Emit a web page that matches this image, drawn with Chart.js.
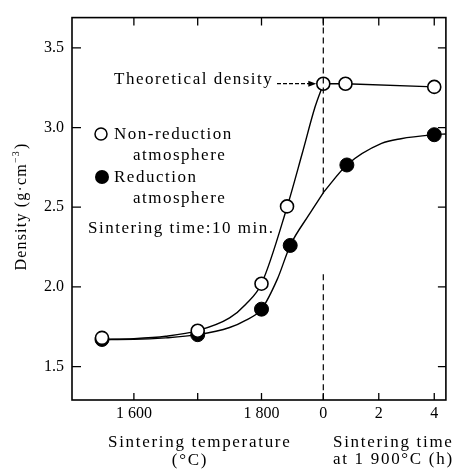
<!DOCTYPE html>
<html>
<head>
<meta charset="utf-8">
<script src="https://cdn.jsdelivr.net/npm/chart.js@4/dist/chart.umd.min.js"></script>
<style>
html, body { margin: 0; padding: 0; background: #fff; }
</style>
</head>
<body>
<canvas id="chart" width="454" height="469"></canvas>
<script>
// measured points, 10 min sintering at each temperature
const tempNonRed = [1550, 1700, 1800, 1840];
const densNonRed = [1.68, 1.725, 2.02, 2.505];
const tempRed = [1550, 1700, 1800, 1845];
const densRed = [1.67, 1.70, 1.86, 2.26];
// measured points, sintering time at 1900 C
const hoursNonRed = [0, 0.8, 4];
const densHoursNonRed = [3.275, 3.275, 3.255];
const hoursRed = [0.85, 4];
const densHoursRed = [2.765, 2.955];

// hand drawn curves
const curveTempNonRed = [1550, 1600, 1650, 1700, 1750, 1775, 1800, 1840, 1864, 1884, 1897];
const curveDensNonRed = [1.67, 1.675, 1.69, 1.725, 1.805, 1.89, 2.02, 2.5, 2.84, 3.13, 3.275];
const curveTempRed = [1550, 1600, 1650, 1700, 1750, 1775, 1800, 1825, 1845, 1874, 1897];
const curveDensRed = [1.67, 1.671, 1.68, 1.70, 1.745, 1.79, 1.86, 2.05, 2.26, 2.45, 2.592];
const curveHoursNonRed = [0, 0.8, 4];
const curveDensHoursNonRed = [3.275, 3.275, 3.255];
const curveHoursRed = [0, 0.85, 2.1, 2.8, 4, 4.45];
const curveDensHoursRed = [2.592, 2.765, 2.90, 2.93, 2.955, 2.96];

const tempTicks = [1600, 1700, 1800];
const tempTickLabels = ['1 600', '', '1 800'];
const hourTicks = [0, 2, 4];
const densityTicks = [1.5, 2.0, 2.5, 3.0, 3.5];

const TEMP_MIN = 1503, TEMP_MAX = 2089;
const HOUR_MIN = -9.06, HOUR_MAX = 4.42;
const DENS_MIN = 1.29, DENS_MAX = 3.69;

const SERIF = '"Liberation Serif", "Times New Roman", serif';

function pts(xs, ys) {
    return xs.map((x, i) => ({ x: x, y: ys[i] }));
}

function hourToTemp(h) {
    return TEMP_MIN + (h - HOUR_MIN) / (HOUR_MAX - HOUR_MIN) * (TEMP_MAX - TEMP_MIN);
}

const framePlugin = {
    id: 'frame',
    afterDraw(chart) {
        const ctx = chart.ctx;
        const a = chart.chartArea;
        const xs = chart.scales.x, xh = chart.scales.xh, ys = chart.scales.y;
        ctx.save();
        ctx.strokeStyle = '#000';
        ctx.fillStyle = '#000';

        // frame
        ctx.lineWidth = 1.6;
        ctx.strokeRect(a.left, a.top, a.right - a.left, a.bottom - a.top);

        // inward ticks
        ctx.lineWidth = 1.3;
        ctx.beginPath();
        xs.ticks.forEach(t => {
            const px = xs.getPixelForValue(t.value);
            ctx.moveTo(px, a.bottom); ctx.lineTo(px, a.bottom - 7);
            ctx.moveTo(px, a.top); ctx.lineTo(px, a.top + 8);
        });
        densityTicks.forEach(v => {
            const py = ys.getPixelForValue(v);
            ctx.moveTo(a.left, py); ctx.lineTo(a.left + 9, py);
            ctx.moveTo(a.right, py); ctx.lineTo(a.right - 8, py);
        });
        ctx.stroke();

        // dashed line at 1900 C / 0 h
        const x0 = xh.getPixelForValue(0);
        ctx.setLineDash([6, 4]);
        ctx.lineWidth = 1.2;
        ctx.beginPath();
        ctx.moveTo(x0, a.top);
        ctx.lineTo(x0, ys.getPixelForValue(2.57));
        ctx.moveTo(x0, ys.getPixelForValue(2.08));
        ctx.lineTo(x0, a.bottom);
        ctx.stroke();

        // arrow to theoretical density
        const ay = ys.getPixelForValue(3.275);
        const tip = x0 - 7;
        ctx.setLineDash([4, 2]);
        ctx.beginPath();
        ctx.moveTo(277, ay);
        ctx.lineTo(tip - 6, ay);
        ctx.stroke();
        ctx.setLineDash([]);
        ctx.beginPath();
        ctx.moveTo(tip, ay);
        ctx.lineTo(tip - 8, ay - 3);
        ctx.lineTo(tip - 8, ay + 3);
        ctx.closePath();
        ctx.fill();

        // texts
        ctx.textBaseline = 'alphabetic';
        ctx.textAlign = 'left';
        ctx.font = '17px ' + SERIF;
        ctx.letterSpacing = '1.5px';
        ctx.fillText('Theoretical density', 114, 84);
        ctx.fillText('Non-reduction', 114, 139);
        ctx.fillText('atmosphere', 133, 160);
        ctx.fillText('Reduction', 114, 182);
        ctx.fillText('atmosphere', 133, 203);
        ctx.fillText('Sintering time:10 min.', 88, 233);

        ctx.letterSpacing = '1.7px';
        ctx.fillText('Sintering temperature', 108, 447);
        ctx.fillText('Sintering time', 333, 447);
        ctx.fillText('at 1 900\u00b0C (h)', 333, 464);
        ctx.textAlign = 'center';
        ctx.fillText('(\u00b0C)', 190, 465);

        // legend markers
        ctx.lineWidth = 1.5;
        ctx.beginPath();
        ctx.arc(101, 134, 6, 0, Math.PI * 2);
        ctx.stroke();
        ctx.beginPath();
        ctx.arc(102, 177, 7, 0, Math.PI * 2);
        ctx.fill();

        // y title
        ctx.translate(26, 207);
        ctx.rotate(-Math.PI / 2);
        ctx.textAlign = 'left';
        ctx.letterSpacing = '1.2px';
        ctx.font = '16px ' + SERIF;
        const main = 'Density (g\u00b7cm';
        const wMain = ctx.measureText(main).width;
        ctx.font = '10px ' + SERIF;
        const sup = '\u22123';
        const wSup = ctx.measureText(sup).width;
        ctx.font = '16px ' + SERIF;
        const wEnd = ctx.measureText(')').width;
        let sx = -(wMain + wSup + wEnd) / 2;
        ctx.fillText(main, sx, 0);
        sx += wMain;
        ctx.font = '10px ' + SERIF;
        ctx.fillText(sup, sx, -7);
        sx += wSup + 1;
        ctx.font = '16px ' + SERIF;
        ctx.fillText(')', sx, 0);

        ctx.restore();
    }
};

const openStyle = {
    pointRadius: 6.5,
    pointBackgroundColor: '#fff',
    pointBorderColor: '#000',
    pointBorderWidth: 1.6,
    showLine: false
};
const filledStyle = {
    pointRadius: 7,
    pointBackgroundColor: '#000',
    pointBorderColor: '#000',
    pointBorderWidth: 1,
    showLine: false
};
const curveStyle = {
    showLine: true,
    pointRadius: 0,
    borderColor: '#000',
    borderWidth: 1.4,
    cubicInterpolationMode: 'monotone',
    fill: false
};

new Chart(document.getElementById('chart').getContext('2d'), {
    type: 'scatter',
    data: {
        datasets: [
            Object.assign({ data: pts(tempNonRed, densNonRed), xAxisID: 'x' }, openStyle),
            Object.assign({ data: pts(hoursNonRed, densHoursNonRed), xAxisID: 'xh' }, openStyle),
            Object.assign({ data: pts(tempRed, densRed), xAxisID: 'x' }, filledStyle),
            Object.assign({ data: pts(hoursRed, densHoursRed), xAxisID: 'xh' }, filledStyle),
            Object.assign({ data: pts(curveTempNonRed, curveDensNonRed), xAxisID: 'x' }, curveStyle),
            Object.assign({ data: pts(curveHoursNonRed, curveDensHoursNonRed), xAxisID: 'xh' }, curveStyle, { cubicInterpolationMode: 'default', tension: 0 }),
            Object.assign({ data: pts(curveTempRed, curveDensRed), xAxisID: 'x' }, curveStyle),
            Object.assign({ data: pts(curveHoursRed, curveDensHoursRed), xAxisID: 'xh' }, curveStyle)
        ]
    },
    options: {
        responsive: false,
        animation: false,
        devicePixelRatio: 1,
        layout: { padding: { left: 0, top: 13, right: 1, bottom: 0 } },
        plugins: {
            legend: { display: false },
            tooltip: { enabled: false }
        },
        scales: {
            x: {
                type: 'linear',
                position: 'bottom',
                min: TEMP_MIN,
                max: TEMP_MAX,
                grid: { display: false, drawTicks: false },
                border: { display: false },
                afterBuildTicks: function(scale) {
                    scale.ticks = tempTicks.map(v => ({ value: v }))
                        .concat(hourTicks.map(h => ({ value: hourToTemp(h) })));
                },
                afterFit: function(scale) { scale.height = 69; },
                ticks: {
                    autoSkip: false,
                    maxRotation: 0,
                    padding: 4,
                    color: '#000',
                    font: { family: SERIF, size: 16 },
                    callback: function(value, index) {
                        if (index < tempTicks.length) return tempTickLabels[index];
                        return String(hourTicks[index - tempTicks.length]);
                    }
                }
            },
            xh: {
                type: 'linear',
                display: false,
                min: HOUR_MIN,
                max: HOUR_MAX
            },
            y: {
                type: 'linear',
                position: 'left',
                min: DENS_MIN,
                max: DENS_MAX,
                grid: { display: false, drawTicks: false },
                border: { display: false },
                afterBuildTicks: function(scale) {
                    scale.ticks = densityTicks.map(v => ({ value: v }));
                },
                afterFit: function(scale) { scale.width = 72; },
                ticks: {
                    padding: 8,
                    color: '#000',
                    font: { family: SERIF, size: 16 },
                    callback: function(value) { return value.toFixed(1); }
                }
            }
        }
    },
    plugins: [framePlugin]
});
</script>
</body>
</html>
